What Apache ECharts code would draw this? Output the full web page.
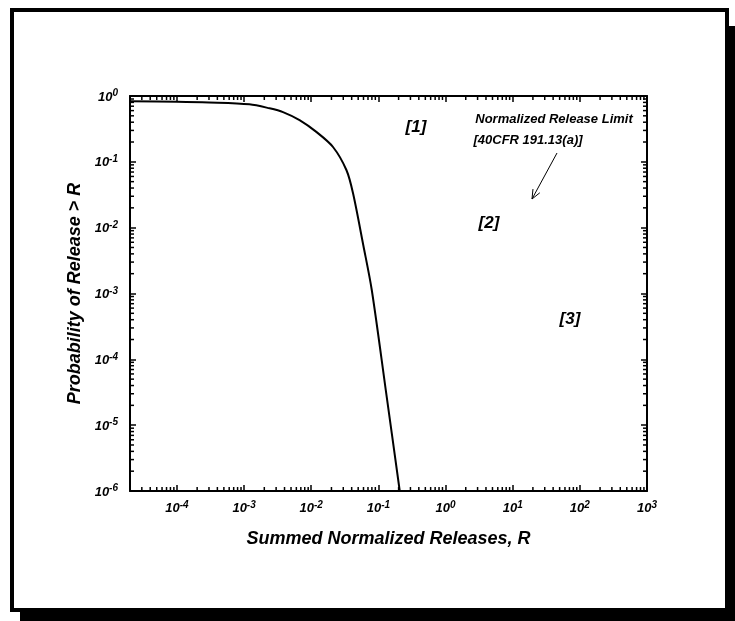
<!DOCTYPE html>
<html>
<head>
<meta charset="utf-8">
<script src="https://cdn.jsdelivr.net/npm/echarts@6/dist/echarts.min.js"></script>
<style>
    html, body { margin: 0; padding: 0; background: #fff; }
    #main { width: 735px; height: 621px; }
</style>
</head>
<body>
<div id="main"></div>
<script>
// 曲线数据 (R, P(release > R))
var releaseR = [2e-5, 1e-4, 3e-4, 1.2e-3, 2.4e-3, 3.8e-3, 6.7e-3, 1.19e-2, 2.11e-2, 3.35e-2, 4.2e-2, 5.96e-2, 7.98e-2, 0.129, 0.208];
var probability = [0.83, 0.82, 0.80, 0.75, 0.65, 0.57, 0.43, 0.285, 0.168, 0.0745, 0.033, 5.4e-3, 1.12e-3, 3.38e-5, 1e-6];

// 坐标轴
var xMin = 2e-5, xMax = 1000;
var yMin = 1e-6, yMax = 1;
var xTickExponents = [-4, -3, -2, -1, 0, 1, 2, 3];
var yTickExponents = [0, -1, -2, -3, -4, -5, -6];
var minorSteps = [2, 3, 4, 5, 6, 7, 8, 9];
var xDecades = [-5, -4, -3, -2, -1, 0, 1, 2];
var yDecades = [-6, -5, -4, -3, -2, -1];

// 标注
var regionLabels = ['[1]', '[2]', '[3]'];
var limitText = ['Normalized Release Limit', '[40CFR 191.13(a)]'];
var xTitle = 'Summed Normalized Releases, R';
var yTitle = 'Probability of Release > R';

var FONT = '"Liberation Sans", Arial, sans-serif';

function minorValues(decades, lo, hi) {
    var out = [];
    decades.forEach(function (d) {
        minorSteps.forEach(function (k) {
            var v = k * Math.pow(10, d);
            if (v > lo * 1.0001 && v < hi * 0.9999) out.push(v);
        });
    });
    return out;
}
var xMinor = minorValues(xDecades, xMin, xMax);
var yMinor = minorValues(yDecades, yMin, yMax);

function powLabel(list) {
    return function (v) {
        var e = Math.log10(v);
        var r = Math.round(e);
        if (Math.abs(e - r) > 1e-6 || list.indexOf(r) < 0) return '';
        return '{b|10}{s|' + r + '}';
    };
}
var labelRich = {
    b: { fontSize: 13, fontWeight: 'bold', fontStyle: 'italic', fontFamily: FONT, color: '#000', lineHeight: 15, verticalAlign: 'bottom' },
    s: { fontSize: 10, fontWeight: 'bold', fontStyle: 'italic', fontFamily: FONT, color: '#000', lineHeight: 9, verticalAlign: 'top' }
};

var axisLine = { show: true, onZero: false, lineStyle: { color: '#000', width: 2 } };
var axisTick = { show: true, inside: true, length: 6, lineStyle: { color: '#000', width: 1.5 } };

function minorTickRender(dir) {
    return function (params, api) {
        var v = api.value(dir === 'x' ? 0 : 1);
        var a, b, len = 4, children;
        if (dir === 'x') {
            a = api.coord([v, yMin]);
            b = api.coord([v, yMax]);
            children = [
                { type: 'line', shape: { x1: a[0], y1: a[1], x2: a[0], y2: a[1] - len } },
                { type: 'line', shape: { x1: b[0], y1: b[1], x2: b[0], y2: b[1] + len } }
            ];
        } else {
            a = api.coord([xMin, v]);
            b = api.coord([xMax, v]);
            children = [
                { type: 'line', shape: { x1: a[0], y1: a[1], x2: a[0] + len, y2: a[1] } },
                { type: 'line', shape: { x1: b[0], y1: b[1], x2: b[0] - len, y2: b[1] } }
            ];
        }
        children.forEach(function (c) { c.style = { stroke: '#000', lineWidth: 1.5 }; });
        return { type: 'group', children: children };
    };
}

// 箭头
var arrowFrom = [557, 153], arrowTo = [532, 199];
function arrowHead(from, to, len, ang) {
    var dx = to[0] - from[0], dy = to[1] - from[1];
    var t = Math.atan2(dy, dx);
    var p1 = [to[0] - len * Math.cos(t - ang), to[1] - len * Math.sin(t - ang)];
    var p2 = [to[0] - len * Math.cos(t + ang), to[1] - len * Math.sin(t + ang)];
    return [p1, to, p2];
}

function annText(text, x, y, size, align) {
    return {
        type: 'text', x: x, y: y, z: 10,
        style: {
            text: text, fill: '#000', font: 'italic bold ' + size + 'px ' + FONT,
            align: align || 'center', verticalAlign: 'middle'
        }
    };
}

var chart = echarts.init(document.getElementById('main'));
var option = {
    backgroundColor: '#fff',
    animation: false,
    grid: { left: 130, top: 96, right: 88, bottom: 130 },
    xAxis: [{
        type: 'log', logBase: 10, min: xMin, max: xMax, position: 'bottom',
        axisLine: axisLine, axisTick: axisTick, splitLine: { show: false },
        axisLabel: { margin: 9, formatter: powLabel(xTickExponents), rich: labelRich, showMinLabel: true, showMaxLabel: true },
        name: xTitle, nameLocation: 'middle', nameGap: 39,
        nameTextStyle: { fontSize: 18, fontWeight: 'bold', fontStyle: 'italic', fontFamily: FONT, color: '#000' }
    }, {
        type: 'log', logBase: 10, min: xMin, max: xMax, position: 'top',
        axisLine: axisLine, axisTick: axisTick, splitLine: { show: false }, axisLabel: { show: false }
    }],
    yAxis: [{
        type: 'log', logBase: 10, min: yMin, max: yMax, position: 'left',
        axisLine: axisLine, axisTick: axisTick, splitLine: { show: false },
        axisLabel: { margin: 12, formatter: powLabel(yTickExponents), rich: labelRich, showMinLabel: true, showMaxLabel: true },
        name: yTitle, nameLocation: 'middle', nameGap: 44,
        nameTextStyle: { fontSize: 18, fontWeight: 'bold', fontStyle: 'italic', fontFamily: FONT, color: '#000' }
    }, {
        type: 'log', logBase: 10, min: yMin, max: yMax, position: 'right',
        axisLine: axisLine, axisTick: axisTick, splitLine: { show: false }, axisLabel: { show: false }
    }],
    series: [{
        type: 'line',
        data: releaseR.map(function (r, i) { return [r, probability[i]]; }),
        symbol: 'none',
        smooth: 0.3,
        lineStyle: { color: '#000', width: 2 },
        z: 5
    }, {
        type: 'custom', clip: false, silent: true,
        renderItem: minorTickRender('x'),
        data: xMinor.map(function (v) { return [v, 1e-3]; })
    }, {
        type: 'custom', clip: false, silent: true,
        renderItem: minorTickRender('y'),
        data: yMinor.map(function (v) { return [1, v]; })
    }],
    graphic: [
        // 外框 + 阴影
        { type: 'rect', z: -20, shape: { x: 20, y: 26, width: 715, height: 595 }, style: { fill: '#000' } },
        { type: 'rect', z: -19, shape: { x: 12, y: 10, width: 715, height: 600 }, style: { fill: '#fff', stroke: '#000', lineWidth: 4 } },
        annText(regionLabels[0], 416, 127, 17),
        annText(regionLabels[1], 489, 223, 17),
        annText(regionLabels[2], 570, 319, 17),
        annText(limitText[0], 554, 119, 13),
        annText(limitText[1], 528, 140, 13),
        { type: 'polyline', z: 10, shape: { points: [arrowFrom, arrowTo] }, style: { stroke: '#000', lineWidth: 1, fill: null } },
        { type: 'polyline', z: 10, shape: { points: arrowHead(arrowFrom, arrowTo, 10, 0.4) }, style: { stroke: '#000', lineWidth: 1, fill: null } }
    ]
};
chart.setOption(option);
</script>
</body>
</html>
